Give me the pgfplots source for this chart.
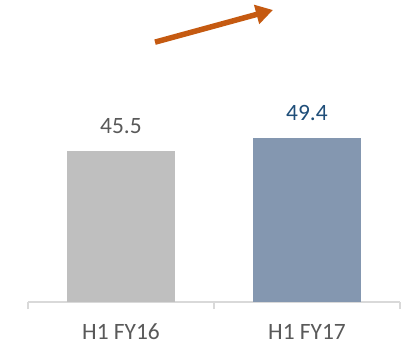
\documentclass[border=0pt]{standalone}
\usepackage{pgfplots}
\pgfplotsset{compat=1.18}
\usepackage{fontspec}
\setmainfont{Carlito}
\usetikzlibrary{arrows.meta}
\definecolor{barA}{HTML}{BFBFBF}
\definecolor{barB}{HTML}{8497B0}
\definecolor{labA}{HTML}{595959}
\definecolor{labB}{HTML}{1F4E79}
\definecolor{axc}{HTML}{D9D9D9}
\definecolor{arr}{HTML}{C55A11}
\begin{document}
\fontsize{23.5}{28}\selectfont
\begin{tikzpicture}
\begin{axis}[
  at={(0,0)}, anchor=south west,
  scale only axis, width=372bp, height=302bp,
  xmin=-0.5, xmax=1.5, ymin=0, ymax=91,
  axis x line*=bottom, axis y line=none,
  x axis line style={color=axc, line width=1.5bp},
  xtick={0,1}, xticklabels={H1 FY16, H1 FY17},
  major tick length=0pt,
  minor xtick={-0.5,0.5,1.5},
  minor tick length=7bp,
  tick align=outside,
  minor tick style={color=axc, line width=1.5bp},
  xticklabel style={font=\fontsize{23.5}{28}\selectfont, text=labA, anchor=base, yshift=-37.5bp, inner sep=0pt},
  ybar, bar width=0.58, bar shift=0pt,
  nodes near coords,
  /pgf/number format/assume math mode=true,
  /pgf/number format/fixed, /pgf/number format/precision=1, /pgf/number format/fixed zerofill,
  every node near coord/.append style={font=\fontsize{23.5}{28}\selectfont, anchor=base, inner sep=0pt, yshift=18bp},
  clip=false,
]
\addplot[fill=barA, draw=none, every node near coord/.append style={text=labA}] coordinates {(0,45.5)};
\addplot[fill=barB, draw=none, every node near coord/.append style={text=labB}] coordinates {(1,49.4)};
\draw[arr, line width=5.5bp, -{Triangle[length=17bp,width=19bp]}] (axis cs:0.183,78.3) -- (axis cs:0.817,88.0);
\end{axis}
\pgfresetboundingbox
\path (-28bp,-42bp) rectangle (373bp,302bp);
\end{tikzpicture}
\end{document}
